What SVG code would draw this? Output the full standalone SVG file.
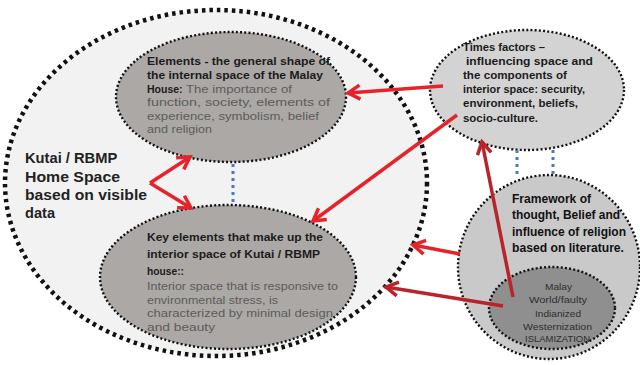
<svg xmlns="http://www.w3.org/2000/svg" width="640" height="365" viewBox="0 0 640 365">
  <style>
    .inner { fill: #aba8a6; stroke: #111; stroke-width: 2.4; stroke-dasharray: 2 2.2; }
    .side { fill: #d3d3d3; stroke: #111; stroke-width: 2.4; stroke-dasharray: 2 2.2; }
    .core { fill: #8f8f8f; stroke: #111; stroke-width: 2.4; stroke-dasharray: 2 2.2; }
    .link { stroke: #4a78c2; stroke-width: 3; stroke-dasharray: 3 4; fill: none; }
    .arrow { stroke: #e5232b; stroke-width: 3.5; fill: none; marker-end: url(#head); }
    .arrow-dark { stroke: #b9232a; stroke-width: 3.5; fill: none; marker-end: url(#head-dark); }
    text { font-family: "Liberation Sans", Arial, sans-serif; }
    .b { font-weight: bold; fill: #1c1c1c; }
    .r { fill: #5c5c5c; }
  </style>
  <defs>
    <marker id="head" markerUnits="userSpaceOnUse" viewBox="0 0 18 18" markerWidth="18" markerHeight="18" refX="15" refY="9" orient="auto">
      <path d="M3,2 L15,9 L3,16" fill="none" stroke="#e5232b" stroke-width="3.5"/>
    </marker>
    <marker id="head-dark" markerUnits="userSpaceOnUse" viewBox="0 0 18 18" markerWidth="18" markerHeight="18" refX="15" refY="9" orient="auto">
      <path d="M3,2 L15,9 L3,16" fill="none" stroke="#b9232a" stroke-width="3.5"/>
    </marker>
  </defs>

  <rect x="0" y="0" width="640" height="365" fill="#ffffff"/>

  <!-- Outer space: Kutai / RBMP home -->
  <g id="home-space">
    <ellipse cx="216" cy="183" rx="211" ry="173" fill="#f2f2f2" stroke="#111" stroke-width="4.5" stroke-dasharray="3.5 4"/>
    <text class="b" font-size="15" style="fill:#222">
      <tspan x="25" y="163" textLength="92" lengthAdjust="spacingAndGlyphs">Kutai / RBMP</tspan>
      <tspan x="25" y="181.5" textLength="95" lengthAdjust="spacingAndGlyphs">Home Space</tspan>
      <tspan x="25" y="200" textLength="122" lengthAdjust="spacingAndGlyphs">based on visible</tspan>
      <tspan x="25" y="218" textLength="30" lengthAdjust="spacingAndGlyphs">data</tspan>
    </text>
  </g>

  <!-- General shape of the internal space -->
  <g id="elements">
    <ellipse class="inner" cx="231" cy="97" rx="115" ry="65"/>
    <text font-size="10.5">
      <tspan class="b" x="147" y="65" textLength="183" lengthAdjust="spacingAndGlyphs">Elements - the general shape of</tspan>
      <tspan class="b" x="147" y="79" textLength="176" lengthAdjust="spacingAndGlyphs">the internal space of the Malay</tspan>
      <tspan class="b" x="147" y="92.5">House:</tspan>
      <tspan class="r" x="186" y="92.5" textLength="106" lengthAdjust="spacingAndGlyphs">The importance of</tspan>
      <tspan class="r" x="147" y="106" textLength="183" lengthAdjust="spacingAndGlyphs">function, society, elements of</tspan>
      <tspan class="r" x="147" y="119.5" textLength="172" lengthAdjust="spacingAndGlyphs">experience, symbolism, belief</tspan>
      <tspan class="r" x="147" y="133" textLength="65" lengthAdjust="spacingAndGlyphs">and religion</tspan>
    </text>
  </g>

  <!-- Key elements of the interior space -->
  <g id="key-elements">
    <ellipse class="inner" cx="228" cy="277" rx="128" ry="72"/>
    <text font-size="11.5">
      <tspan class="b" x="147" y="241" textLength="176" lengthAdjust="spacingAndGlyphs">Key elements that make up the</tspan>
      <tspan class="b" x="147" y="258" textLength="173" lengthAdjust="spacingAndGlyphs">interior space of Kutai / RBMP</tspan>
      <tspan class="b" x="147" y="275" textLength="37" lengthAdjust="spacingAndGlyphs">house::</tspan>
    </text>
    <text class="r" font-size="11">
      <tspan x="147" y="290" textLength="191" lengthAdjust="spacingAndGlyphs">Interior space that is responsive to</tspan>
      <tspan x="147" y="303.5" textLength="131" lengthAdjust="spacingAndGlyphs">environmental stress, is</tspan>
      <tspan x="147" y="317" textLength="186" lengthAdjust="spacingAndGlyphs">characterized by minimal design</tspan>
      <tspan x="147" y="330.5" textLength="68" lengthAdjust="spacingAndGlyphs">and beauty</tspan>
    </text>
  </g>

  <!-- Times factors -->
  <g id="times-factors">
    <ellipse class="side" cx="527" cy="90" rx="97" ry="60"/>
    <text class="b" font-size="11.5">
      <tspan x="463" y="51" textLength="82" lengthAdjust="spacingAndGlyphs">Times factors –</tspan>
      <tspan x="466" y="65" textLength="127" lengthAdjust="spacingAndGlyphs">influencing space and</tspan>
      <tspan x="463" y="78.5" textLength="104" lengthAdjust="spacingAndGlyphs">the components of</tspan>
      <tspan x="463" y="93" textLength="122" lengthAdjust="spacingAndGlyphs">interior space: security,</tspan>
      <tspan x="463" y="107" textLength="115" lengthAdjust="spacingAndGlyphs">environment, beliefs,</tspan>
      <tspan x="463" y="121.5" textLength="75" lengthAdjust="spacingAndGlyphs">socio-culture.</tspan>
    </text>
  </g>

  <!-- Framework of thought -->
  <g id="framework">
    <ellipse cx="549" cy="267" rx="91" ry="92" fill="#c9c9c9" stroke="#111" stroke-width="2.4" stroke-dasharray="2 2.2"/>
    <text class="b" font-size="12" style="fill:#111">
      <tspan x="512" y="203" textLength="79" lengthAdjust="spacingAndGlyphs">Framework of</tspan>
      <tspan x="512" y="219" textLength="108" lengthAdjust="spacingAndGlyphs">thought, Belief and</tspan>
      <tspan x="512" y="235.5" textLength="114" lengthAdjust="spacingAndGlyphs">influence of religion</tspan>
      <tspan x="512" y="252" textLength="112" lengthAdjust="spacingAndGlyphs">based on literature.</tspan>
    </text>
  </g>

  <!-- Malay world influences -->
  <g id="malay-world">
    <ellipse class="core" cx="552" cy="308" rx="63" ry="41"/>
    <text font-size="9.5" fill="#2e2e2e">
      <tspan x="545" y="290" textLength="27" lengthAdjust="spacingAndGlyphs">Malay</tspan>
      <tspan x="529" y="303" textLength="58" lengthAdjust="spacingAndGlyphs">World/faulty</tspan>
      <tspan x="535" y="316.5" textLength="46" lengthAdjust="spacingAndGlyphs">Indianized</tspan>
      <tspan x="523" y="329.5" textLength="69" lengthAdjust="spacingAndGlyphs">Westernization</tspan>
      <tspan x="525" y="342" textLength="65" lengthAdjust="spacingAndGlyphs">ISLAMIZATION</tspan>
    </text>
  </g>

  <!-- Connectors -->
  <g id="connectors">
    <line class="link" x1="233" y1="164" x2="233" y2="204"/>
    <line class="link" x1="517" y1="150" x2="517" y2="176"/>
    <line class="link" x1="553" y1="150" x2="553" y2="176"/>

    <line class="arrow" x1="443" y1="86" x2="348" y2="93"/>
    <line class="arrow" x1="457" y1="115" x2="313" y2="221"/>
    <line class="arrow" x1="150" y1="183" x2="190" y2="157"/>
    <line class="arrow" x1="150" y1="183" x2="191" y2="208"/>
    <line class="arrow" x1="460" y1="254" x2="413" y2="245"/>
    <line class="arrow-dark" x1="503" y1="306" x2="386" y2="287"/>
    <line class="arrow-dark" x1="513" y1="297" x2="482" y2="142"/>
  </g>
</svg>
